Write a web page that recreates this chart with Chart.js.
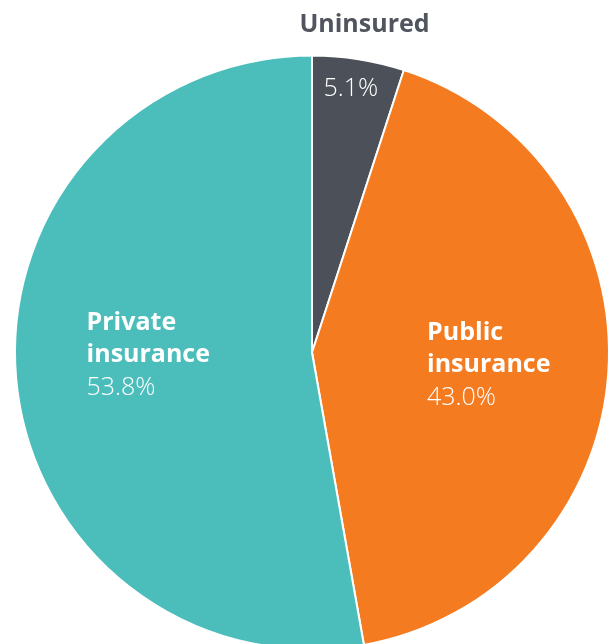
<!DOCTYPE html>
<html>
<head>
<meta charset="utf-8">
<script src="https://cdn.jsdelivr.net/npm/chart.js@4/dist/chart.umd.min.js"></script>
<style>
  html, body { margin: 0; padding: 0; background: #ffffff; overflow: hidden; width: 609px; height: 644px; }
  #wrap { position: absolute; left: 0; top: 0; width: 624px; height: 705px; }
  canvas { display: block; }
</style>
</head>
<body>
<div id="wrap"><canvas id="c" width="624" height="705"></canvas></div>
<script>
const categories = ['Uninsured', 'Public insurance', 'Private insurance'];
const values = [5.1, 43.0, 53.8];
const valueLabels = ['5.1%', '43.0%', '53.8%'];
const colors = ['#4b5059', '#f47b20', '#4bbdbb'];

const labelPlugin = {
  id: 'sliceLabels',
  afterDatasetsDraw(chart) {
    const ctx = chart.ctx;
    const meta = chart.getDatasetMeta(0);
    const boldFont = '700 25px "Open Sans", Lato, sans-serif';
    const lightFont = '300 25px "Open Sans", Lato, sans-serif';
    const lineH = 32;
    const fracs = [0.9, 0.6, 0.55];
    const shiftX = [-3, -1, -1];
    const shiftY = [0, 0, -12];
    meta.data.forEach((arc, i) => {
      const p = arc.getProps(['x', 'y', 'startAngle', 'endAngle', 'outerRadius'], true);
      const mid = (p.startAngle + p.endAngle) / 2;
      ctx.save();
      ctx.textBaseline = 'middle';
      if (i === 0) {
        const ox = p.x + Math.cos(mid) * p.outerRadius;
        const oy = p.y + Math.sin(mid) * p.outerRadius;
        ctx.font = boldFont;
        ctx.fillStyle = '#50555e';
        ctx.textAlign = 'center';
        ctx.fillText(categories[i], ox + 6, oy - 34);
        const r = p.outerRadius * fracs[i];
        ctx.font = lightFont;
        ctx.fillStyle = '#ffffff';
        ctx.fillText(valueLabels[i], p.x + Math.cos(mid) * r + shiftX[i], p.y + Math.sin(mid) * r + shiftY[i]);
      } else {
        const cx = p.x + Math.cos(mid) * p.outerRadius * fracs[i] + shiftX[i];
        const cy = p.y + Math.sin(mid) * p.outerRadius * fracs[i] + shiftY[i];
        const words = categories[i].split(' ');
        ctx.font = boldFont;
        let w = 0;
        words.forEach(t => { w = Math.max(w, ctx.measureText(t).width); });
        const left = cx - w / 2;
        const top = cy - lineH;
        ctx.fillStyle = '#ffffff';
        ctx.textAlign = 'left';
        words.forEach((t, k) => ctx.fillText(t, left, top + k * lineH));
        ctx.font = lightFont;
        ctx.fillText(valueLabels[i], left, top + words.length * lineH + 1);
      }
      ctx.restore();
    });
  }
};

new Chart(document.getElementById('c'), {
  type: 'pie',
  data: {
    labels: categories,
    datasets: [{
      data: values,
      backgroundColor: colors,
      borderColor: '#ffffff',
      borderWidth: 2,
      hoverOffset: 0
    }]
  },
  options: {
    responsive: false,
    animation: false,
    layout: { padding: 14 },
    plugins: {
      legend: { display: false },
      tooltip: { enabled: false }
    },
    events: []
  },
  plugins: [labelPlugin]
});
</script>
</body>
</html>
